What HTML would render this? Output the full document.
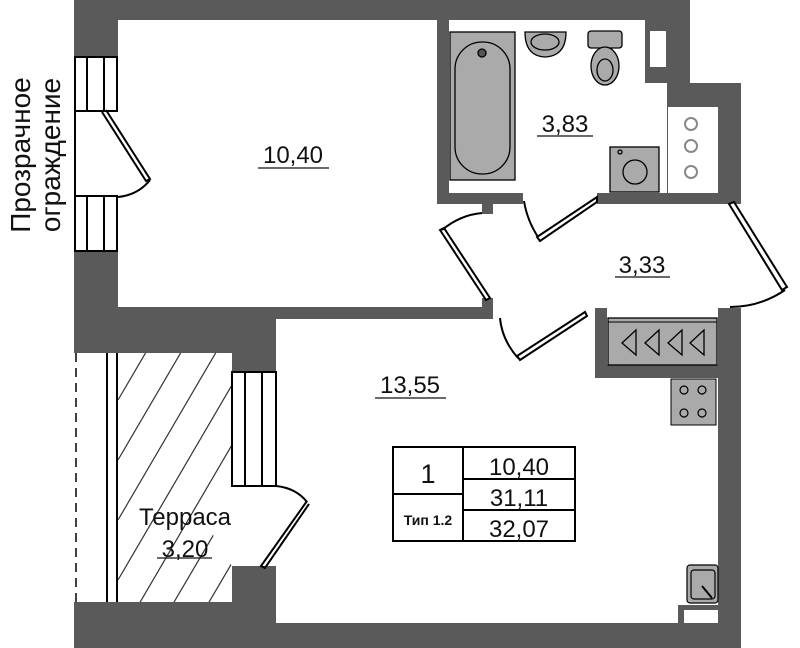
<!DOCTYPE html>
<html><head><meta charset="utf-8"><style>
html,body{margin:0;padding:0;background:#fff;}
svg{display:block;}
text{font-family:"Liberation Sans","Noto Sans CJK SC",sans-serif;fill:#111;}
</style></head><body>
<svg width="800" height="648" viewBox="0 0 800 648" xmlns="http://www.w3.org/2000/svg">
<g fill="#5a5a5a">
<rect x="74" y="0" width="616" height="20"/>
<rect x="74" y="0" width="44" height="57"/>
<rect x="74" y="251" width="44" height="102"/>
<rect x="74" y="307" width="419" height="12"/>
<rect x="74" y="307" width="202" height="46"/>
<rect x="232" y="307" width="44" height="65"/>
<rect x="232" y="566" width="44" height="57"/>
<rect x="74" y="602" width="202" height="46"/>
<rect x="74" y="623" width="667" height="25"/>
<rect x="718" y="308" width="23" height="340"/>
<rect x="437" y="20" width="12" height="184"/>
<rect x="437" y="193" width="86" height="11"/>
<rect x="597" y="193" width="144" height="11"/>
<rect x="645" y="20" width="45" height="63"/>
<rect x="667" y="20" width="23" height="90"/>
<rect x="667" y="83" width="74" height="121"/>
<rect x="482" y="203" width="11" height="11"/>
<rect x="482" y="298" width="11" height="20"/>
<rect x="595" y="308" width="12" height="70"/>
<rect x="595" y="365" width="124" height="13"/>
</g>
<rect x="650" y="31" width="16" height="36" fill="#fff"/>
<rect x="668" y="107" width="50" height="86" fill="#fff"/>
<g fill="none" stroke="#888" stroke-width="2">
<circle cx="691" cy="124" r="6"/><circle cx="691" cy="146" r="6"/><circle cx="691" cy="172" r="6"/>
</g>
<g stroke="#000" stroke-width="2" fill="none">
<rect x="75" y="57" width="42" height="54"/>
<line x1="87" y1="57" x2="87" y2="111"/><line x1="104" y1="57" x2="104" y2="111"/>
<rect x="75" y="196" width="42" height="55"/>
<line x1="87" y1="196" x2="87" y2="251"/><line x1="104" y1="196" x2="104" y2="251"/>
<line x1="75" y1="111" x2="75" y2="196"/>
<path d="M102 112 L146 181 L150 179 L106 110"/>
<path d="M118 197 Q138 195 150 180"/>
</g>
<line x1="76" y1="353" x2="76" y2="602" stroke="#000" stroke-width="1.5" stroke-dasharray="9,6"/>
<line x1="107" y1="353" x2="107" y2="602" stroke="#000" stroke-width="2"/>
<line x1="117" y1="353" x2="117" y2="602" stroke="#000" stroke-width="2"/>
<clipPath id="tc"><polygon points="118,353 232,353 232,486 210,530 232,566 232,602 118,602"/></clipPath>
<g clip-path="url(#tc)" stroke="#333" stroke-width="1.2">
<line x1="118" y1="400" x2="200" y2="260"/><line x1="118" y1="460" x2="235" y2="260"/>
<line x1="118" y1="520" x2="270" y2="260"/><line x1="118" y1="580" x2="305" y2="260"/>
<line x1="118" y1="640" x2="340" y2="260"/><line x1="140" y1="660" x2="375" y2="260"/>
<line x1="175" y1="660" x2="410" y2="260"/><line x1="210" y1="660" x2="445" y2="260"/>
</g>
<g stroke="#000" stroke-width="2" fill="none">
<rect x="232" y="372" width="44" height="114"/>
<line x1="245" y1="372" x2="245" y2="486"/><line x1="262" y1="372" x2="262" y2="486"/>
<path d="M276 486 Q296 488 307 502"/>
<path d="M307 501 L261 566 L265 568 L309 504"/>
</g>
<g stroke="#000" stroke-width="1.3">
<rect x="450" y="32" width="65" height="148" fill="#aaa"/>
<rect x="455" y="42" width="55" height="132" rx="27" fill="#aaa"/>
<circle cx="482" cy="53" r="4" fill="#555"/>
<path d="M525 32 L566 32 Q566 56 545 57 Q525 56 525 32Z" fill="#aaa"/>
<ellipse cx="545" cy="42" rx="14" ry="8" fill="#aaa"/>
<rect x="588" y="31" width="34" height="17" rx="3" fill="#aaa"/>
<ellipse cx="605" cy="66" rx="14" ry="19" fill="#aaa"/>
<ellipse cx="605" cy="70" rx="8" ry="11" fill="#aaa"/>
<rect x="610" y="147" width="49" height="45" fill="#aaa"/>
<circle cx="635" cy="172" r="12" fill="#aaa"/>
<circle cx="620" cy="152" r="2" fill="none"/>
</g>
<g stroke="#000" stroke-width="2" fill="none">
<path d="M440 230 L486 300 L490 298 L444 228Z" fill="#fff"/>
<path d="M442 230 Q460 215 482 213"/>
<path d="M537 237 L597 197 L597 202 L540 241Z" fill="#fff"/>
<path d="M538 237 Q527 220 524 201"/>
<path d="M729 204 L782 290 L787 287 L734 202Z" fill="#fff"/>
<path d="M785 290 Q760 307 730 307"/>
<path d="M585 312 L517 356 L520 360 L587 316Z" fill="#fff"/>
<path d="M518 358 Q502 340 500 318"/>
</g>
<rect x="608" y="318" width="109" height="47" fill="#aaa" stroke="#000" stroke-width="1.3"/>
<line x1="608" y1="322" x2="717" y2="322" stroke="#000" stroke-width="1"/>
<g stroke="#000" stroke-width="1.3" fill="none">
<path d="M636 330 L636 355 L622 343 Z"/>
<path d="M659 330 L659 355 L645 343 Z"/>
<path d="M682 330 L682 355 L668 343 Z"/>
<path d="M704 330 L704 355 L690 343 Z"/>
</g>
<rect x="671" y="379" width="45" height="46" fill="#aaa" stroke="#000" stroke-width="1"/>
<g fill="none" stroke="#000" stroke-width="1.2">
<circle cx="684" cy="390" r="4"/><circle cx="702" cy="390" r="4"/><circle cx="684" cy="413" r="4"/><circle cx="702" cy="413" r="4"/>
</g>
<rect x="687" y="565" width="31" height="38" rx="3" fill="#aaa" stroke="#000" stroke-width="1.2"/>
<rect x="691" y="570" width="24" height="29" rx="3" fill="none" stroke="#000" stroke-width="1.2"/>
<line x1="702" y1="586" x2="712" y2="598" stroke="#000" stroke-width="2"/>
<rect x="678" y="605" width="40" height="18" fill="#5a5a5a"/>
<rect x="684" y="610" width="34" height="13" fill="#fff"/>
<g stroke="#000" stroke-width="2" fill="#fff">
<rect x="393" y="447" width="182" height="94"/>
<line x1="463" y1="447" x2="463" y2="541"/>
<line x1="393" y1="494" x2="463" y2="494"/>
<line x1="463" y1="479" x2="575" y2="479"/>
<line x1="463" y1="510" x2="575" y2="510"/>
</g>
<text x="428" y="483" font-size="27" text-anchor="middle">1</text>
<text x="428" y="525" font-size="14" font-weight="bold" text-anchor="middle">Тип 1.2</text>
<text x="519" y="475" font-size="24" text-anchor="middle">10,40</text>
<text x="519" y="506" font-size="24" text-anchor="middle">31,11</text>
<text x="519" y="537" font-size="24" text-anchor="middle">32,07</text>
<g font-size="24" text-anchor="middle">
<text x="293" y="163">10,40</text>
<text x="565" y="132">3,83</text>
<text x="642" y="273">3,33</text>
<text x="410" y="393">13,55</text>
<text x="185" y="525">Терраса</text>
<text x="185" y="557">3,20</text>
</g>
<g stroke="#111" stroke-width="1.3">
<line x1="258" y1="168" x2="329" y2="168"/>
<line x1="537" y1="136" x2="593" y2="136"/>
<line x1="615" y1="277" x2="670" y2="277"/>
<line x1="375" y1="398" x2="446" y2="398"/>
<line x1="157" y1="558" x2="212" y2="558"/>
</g>
<text transform="translate(30,155) rotate(-90)" font-size="28" text-anchor="middle">Прозрачное</text>
<text transform="translate(60,155) rotate(-90)" font-size="28" text-anchor="middle">ограждение</text>
</svg>
</body></html>
